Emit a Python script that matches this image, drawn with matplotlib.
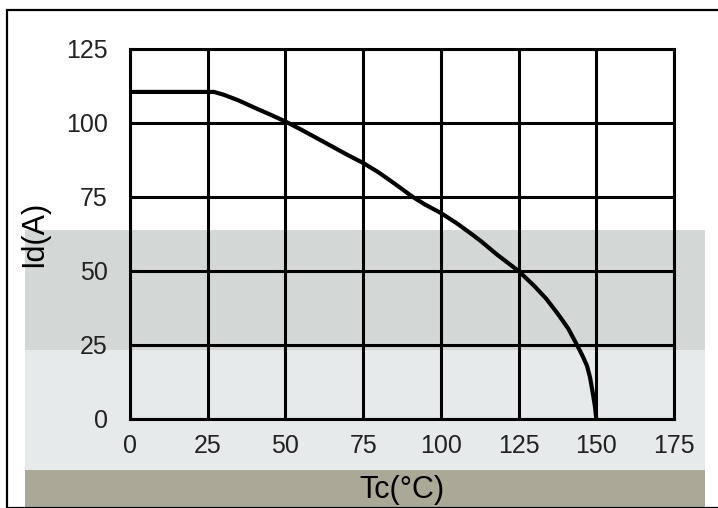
import matplotlib
matplotlib.use('Agg')
from matplotlib import pyplot as plt
from matplotlib.patches import Rectangle

# derating curve
tc = [0, 27, 30, 35, 40, 45, 50, 55, 62, 70, 75, 80, 85, 91, 95, 100, 105, 110,
      113, 118, 125, 130, 134, 138, 141, 143.8, 145.5, 147, 148, 149, 149.6, 150]
i_d = [110.5, 110.5, 109.6, 107.6, 105.2, 102.9, 100.5, 97.8, 93.8, 89.2, 86.5,
       83.3, 79.6, 75, 72.4, 69.6, 66.2, 62.4, 60, 55.6, 50, 45, 40.5, 35, 30.5,
       25, 21.5, 18, 14, 8, 4, 0]

x_ticks = [0, 25, 50, 75, 100, 125, 150, 175]
y_ticks = [0, 25, 50, 75, 100, 125]

W, H = 718, 508


def px_rect(fig, x0, y0, x1, y1, color):
    # rectangle given in pixel coords (top-left origin)
    fig.patches.append(Rectangle((x0 / W, 1 - y1 / H), (x1 - x0) / W, (y1 - y0) / H,
                                 transform=fig.transFigure, facecolor=color,
                                 edgecolor='none', zorder=-5))


def plot_curve():
    plt.rcParams['font.family'] = ['Liberation Sans', 'DejaVu Sans']
    fig = plt.figure(figsize=(W / 100, H / 100), dpi=100)

    # scanned-page background bands
    px_rect(fig, 25, 230, 705, 508, '#e7eaea')
    px_rect(fig, 25, 230, 705, 350, '#d3d8d7')
    px_rect(fig, 25, 470, 705, 508, '#aca898')
    fig.patches.append(Rectangle((7 / W, 0), 1, 1 - 10 / H, transform=fig.transFigure,
                                 facecolor='none', edgecolor='black', lw=1.6, zorder=-4))

    ax = fig.add_axes([130 / W, 1 - 419 / H, 544 / W, 370 / H])
    ax.set_zorder(2)
    ax.set_facecolor('none')
    ax.plot(tc, i_d, color='black', lw=3, zorder=3)

    ax.set_xlim(0, 175)
    ax.set_ylim(0, 125)
    ax.set_xticks(x_ticks)
    ax.set_yticks(y_ticks)
    ax.grid(True, color='black', lw=2.2)
    for s in ax.spines.values():
        s.set_linewidth(2.2)
    ax.tick_params(length=0, labelsize=18, colors='#222222')
    ax.tick_params(axis='x', pad=11)
    ax.tick_params(axis='y', pad=16)

    ax.set_xlabel('Tc(°C)', fontsize=22, labelpad=12)
    ax.set_ylabel('Id(A)', fontsize=22, labelpad=12)

    fig.savefig('out.png', dpi=100)


if __name__ == '__main__':
    plot_curve()
